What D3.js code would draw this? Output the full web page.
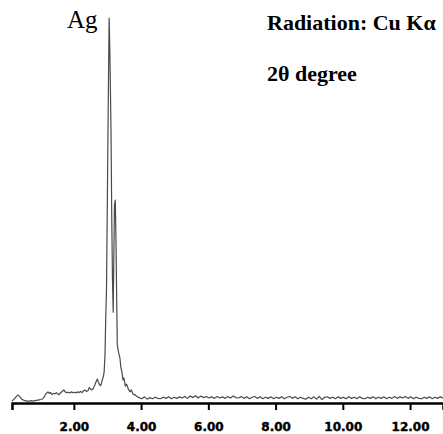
<!DOCTYPE html>
<html>
<head>
<meta charset="utf-8">
<script src="https://cdn.jsdelivr.net/npm/d3@7"></script>
<style>
  body { margin: 0; background: #fff; }
  svg { display: block; }
</style>
</head>
<body>
<svg id="xrd" width="443" height="434"></svg>
<script>
// 2-theta (deg) and intensity (counts)
const leftScan = [
  [0.16, 5], [0.22, 10], [0.28, 16], [0.34, 21], [0.40, 16], [0.45, 10], [0.49, 8], [0.55, 6],
  [0.61, 5], [0.67, 5], [0.73, 6], [0.79, 5], [0.84, 6], [0.90, 7], [0.96, 8], [1.02, 9],
  [1.08, 11], [1.13, 18], [1.17, 24], [1.23, 29], [1.27, 25], [1.31, 27], [1.35, 22], [1.40, 25],
  [1.44, 24], [1.48, 27], [1.52, 23], [1.56, 22], [1.60, 26], [1.65, 30], [1.70, 34], [1.74, 29],
  [1.78, 27], [1.83, 28], [1.88, 26], [1.92, 29], [1.96, 27], [2.01, 28], [2.06, 26], [2.10, 29],
  [2.15, 27], [2.20, 30], [2.24, 27], [2.28, 31], [2.33, 34], [2.37, 30], [2.42, 32], [2.46, 40],
  [2.50, 36], [2.54, 34], [2.58, 38], [2.62, 46], [2.66, 55], [2.70, 62], [2.73, 54], [2.76, 48],
  [2.80, 45], [2.84, 58], [2.88, 70], [2.90, 80]
]

const peakScan = [
  [2.926, 125], [2.947, 216], [2.971, 294], [2.991, 475], [3.015, 709], [3.036, 891], [3.05, 1000],
  [3.075, 891], [3.105, 709], [3.128, 475], [3.149, 319], [3.17, 236], [3.188, 371], [3.208, 514],
  [3.232, 527], [3.253, 423], [3.274, 268], [3.292, 151], [3.327, 132], [3.37, 117], [3.40, 91],
  [3.43, 81], [3.46, 60], [3.49, 65], [3.53, 44], [3.57, 49], [3.62, 36], [3.67, 29], [3.71, 34],
  [3.76, 23], [3.82, 21], [3.88, 17]
]

const tailScan = [
  [3.94, 14], [4.02, 11], [4.10, 16], [4.18, 10], [4.26, 14], [4.34, 11], [4.42, 15], [4.50, 12],
  [4.58, 11], [4.66, 15], [4.74, 12], [4.82, 16], [4.90, 11], [4.98, 15], [5.06, 12], [5.14, 16],
  [5.22, 13], [5.30, 17], [5.38, 12], [5.46, 18], [5.54, 14], [5.62, 19], [5.70, 13], [5.78, 18],
  [5.86, 14], [5.94, 17], [6.02, 13], [6.10, 16], [6.18, 12], [6.26, 17], [6.34, 13], [6.42, 16],
  [6.50, 12], [6.58, 17], [6.66, 13], [6.74, 18], [6.82, 14], [6.90, 13], [6.98, 17], [7.06, 12],
  [7.14, 16], [7.22, 11], [7.30, 15], [7.38, 17], [7.46, 12], [7.54, 16], [7.62, 11], [7.70, 15],
  [7.78, 12], [7.86, 16], [7.94, 11], [8.02, 15], [8.10, 12], [8.18, 16], [8.26, 11], [8.34, 15],
  [8.42, 17], [8.50, 12], [8.58, 16], [8.66, 11], [8.74, 15], [8.82, 12], [8.90, 10], [8.98, 15],
  [9.06, 11], [9.14, 16], [9.22, 10], [9.30, 17], [9.38, 9], [9.46, 15], [9.54, 16], [9.62, 12],
  [9.70, 15], [9.78, 11], [9.86, 16], [9.94, 12], [10.02, 15], [10.10, 11], [10.18, 16], [10.26, 12],
  [10.34, 15], [10.42, 11], [10.50, 16], [10.58, 12], [10.66, 11], [10.74, 15], [10.82, 12], [10.90, 16],
  [10.98, 11], [11.06, 15], [11.14, 12], [11.22, 16], [11.30, 11], [11.38, 15], [11.46, 12], [11.54, 17],
  [11.62, 12], [11.70, 16], [11.78, 13], [11.86, 17], [11.94, 12], [12.02, 16], [12.10, 11], [12.18, 15],
  [12.26, 12], [12.34, 11], [12.42, 15], [12.50, 12], [12.58, 16], [12.66, 11], [12.74, 15], [12.82, 12],
  [12.90, 16], [12.98, 13]
]

const tickValues = [2, 4, 6, 8, 10, 12]
const peakLabel = 'Ag'
const radiationLabel = 'Radiation: Cu Kα'
const axisLabel = '2θ degree'

const svg = d3.select('svg#xrd')

const x = d3.scaleLinear().domain([0.16, 12.98]).range([12, 443])
const y = d3.scaleLinear().domain([0, 1000]).range([403, 18])

const scan = leftScan.concat(peakScan, tailScan)

const line = d3.line()
  .x(d => x(d[0]))
  .y(d => y(d[1]))

svg.append('path')
  .datum(scan)
  .attr('d', line)
  .attr('fill', 'none')
  .attr('stroke', '#4a4a4a')
  .attr('stroke-width', 1.2)
  .attr('stroke-linejoin', 'round')

const axis = svg.append('g')
  .attr('transform', 'translate(0, 403)')
  .call(d3.axisBottom(x)
    .tickValues(tickValues)
    .tickFormat(d3.format('.2f'))
    .tickSizeOuter(0)
    .tickSize(7)
    .tickPadding(12))

axis.select('.domain')
  .attr('stroke', '#000')
  .attr('stroke-width', 2.5)
axis.selectAll('.tick line')
  .attr('stroke', '#000')
  .attr('stroke-width', 2)
axis.selectAll('.tick text')
  .attr('fill', '#000')
  .attr('stroke', '#000')
  .attr('stroke-width', 0.4)
  .style('font-family', '"DejaVu Sans", sans-serif')
  .style('font-weight', 'bold')
  .style('font-size', '12px')

svg.append('text')
  .attr('x', 67)
  .attr('y', 28)
  .style('font-family', '"Liberation Serif", serif')
  .style('font-size', '25px')
  .text(peakLabel)

svg.append('text')
  .attr('x', 267)
  .attr('y', 30)
  .style('font-family', '"Liberation Serif", serif')
  .style('font-weight', 'bold')
  .style('font-size', '22px')
  .text(radiationLabel)

svg.append('text')
  .attr('x', 267)
  .attr('y', 81)
  .style('font-family', '"Liberation Serif", serif')
  .style('font-weight', 'bold')
  .style('font-size', '22px')
  .text(axisLabel)
</script>
</body>
</html>
